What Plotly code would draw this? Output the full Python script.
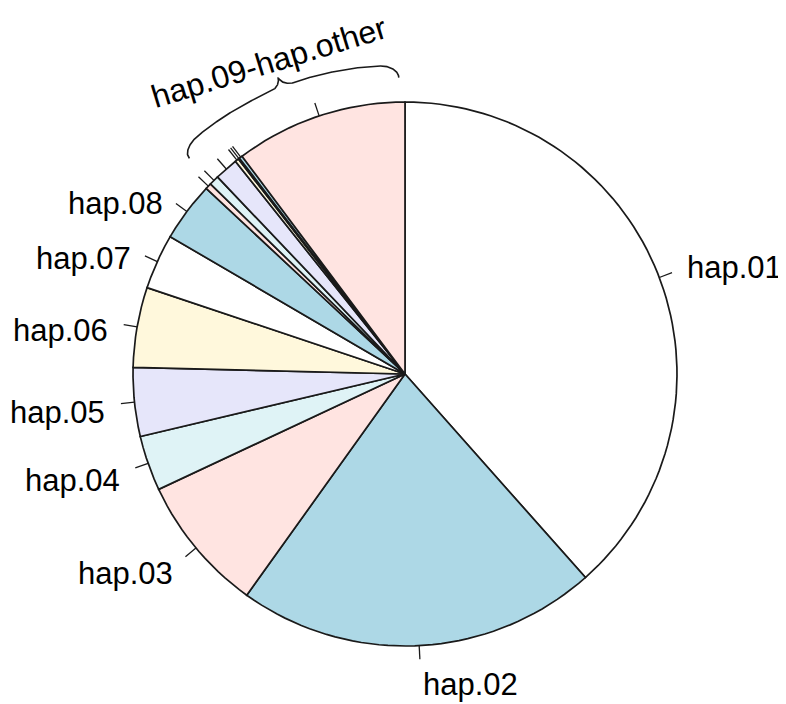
import numpy as np
import plotly.graph_objects as go

# ---- data ----
labels = ["hap.01", "hap.02", "hap.03", "hap.04", "hap.05", "hap.06", "hap.07", "hap.08",
          "hap.09", "hap.10", "hap.11", "hap.12", "hap.13", "hap.14", "hap.other"]
shown_labels = ["hap.01", "hap.02", "hap.03", "hap.04", "hap.05", "hap.06", "hap.07", "hap.08",
                "", "", "", "", "", "", ""]
values = [38.44, 21.42, 8.14, 3.28, 4.08, 4.75, 3.28, 3.53,
          0.36, 0.58, 1.39, 0.22, 0.08, 0.19, 10.22]
colors = ["#FFFFFF", "#ADD8E6", "#FFE4E1", "#DFF3F6", "#E6E6FA", "#FFF8DC"]
group_label = "hap.09-hap.other"
group_first = 8  # index of hap.09

# ---- geometry (R-style pie: clockwise from top, radius 1) ----
FONT = "Liberation Sans, Arial, Helvetica, sans-serif"
FS = 31
EDGES = 200
vals = np.array(values, dtype=float)
cum = np.concatenate([[0.0], np.cumsum(vals) / vals.sum()])


def t2xy(t, r=1.0):
    ang = np.pi / 2 - 2 * np.pi * np.asarray(t)
    return r * np.cos(ang), r * np.sin(ang)


fig = go.Figure()
line_col = "#1a1a1a"
for i in range(len(vals)):
    n = max(2, int(np.floor(EDGES * (cum[i + 1] - cum[i]))))
    t = np.linspace(cum[i], cum[i + 1], n)
    px, py = t2xy(t)
    xs = np.concatenate([[0.0], px, [0.0]])
    ys = np.concatenate([[0.0], py, [0.0]])
    fig.add_trace(go.Scatter(x=xs, y=ys, mode="lines", fill="toself",
                             fillcolor=colors[i % len(colors)],
                             line=dict(color=line_col, width=1.7),
                             hoverinfo="text", text=labels[i], showlegend=False))

# ticks and labels
annotations = []
for i in range(len(vals)):
    mid = (cum[i] + cum[i + 1]) / 2
    x0, y0 = t2xy(mid, 1.0)
    x1, y1 = t2xy(mid, 1.05)
    fig.add_trace(go.Scatter(x=[x0, x1], y=[y0, y1], mode="lines",
                             line=dict(color=line_col, width=1.3),
                             hoverinfo="skip", showlegend=False))
    if shown_labels[i]:
        lx, ly = t2xy(mid, 1.1)
        if lx > 0 and ly > 0:
            ysh = 0
        elif ly < -1.0:
            ysh = -12
        else:
            ysh = -8
        annotations.append(dict(x=lx, y=ly, xref="x", yref="y", text=shown_labels[i],
                                showarrow=False, xanchor="left" if lx > 0 else "right",
                                yanchor="middle", yshift=ysh,
                                font=dict(family=FONT, size=FS, color="black")))

# curly brace around the grouped small slices
t_a = 315.0 / 360
t_b = 358.8 / 360
t_c = 336.8 / 360
r_left, r_right = 1.163, 1.134
hook_l, hook_r, cusp_h = 0.042, 0.044, 0.040
d_hook_l = 4.0 / 360
d_hook_r = 3.5 / 360
d_cusp = 2.3 / 360
tt = np.linspace(t_a, t_b, 900)
base = r_left + (r_right - r_left) * (tt - t_a) / (t_b - t_a)
rr = base.copy()
s = (tt - t_a) / d_hook_l
m = s < 1
rr[m] = base[m] - hook_l * (1 - np.sqrt(1 - (1 - s[m]) ** 2))
s = (t_b - tt) / d_hook_r
m = s < 1
rr[m] = base[m] - hook_r * (1 - np.sqrt(1 - (1 - s[m]) ** 2))
s = 1 - np.abs(tt - t_c) / d_cusp
m = s > 0
rr[m] = base[m] + cusp_h * (1 - np.sqrt(1 - s[m] ** 2))
bx, by = t2xy(tt, rr)
fig.add_trace(go.Scatter(x=bx, y=by, mode="lines", line=dict(color=line_col, width=1.6),
                         hoverinfo="skip", showlegend=False))
gx, gy = t2xy(336.5 / 360, 1.25)
annotations.append(dict(x=gx, y=gy, xref="x", yref="y", text=group_label, showarrow=False,
                        xanchor="center", yanchor="middle", textangle=-17,
                        font=dict(family=FONT, size=32, color="black")))

# page body has an 8px margin, so the figure is sized to fit the window
W, H = 778, 696
R_PX = 272.0
CX, CY = 397.0, 366.0
fig.update_layout(
    width=W, height=H, autosize=False,
    margin=dict(l=0, r=0, t=0, b=0),
    paper_bgcolor="white", plot_bgcolor="white",
    xaxis=dict(range=[-CX / R_PX, (W - CX) / R_PX], visible=False, fixedrange=True),
    yaxis=dict(range=[-(H - CY) / R_PX, CY / R_PX], visible=False, fixedrange=True),
    annotations=annotations,
    showlegend=False,
)
fig.write_html("out.html")
